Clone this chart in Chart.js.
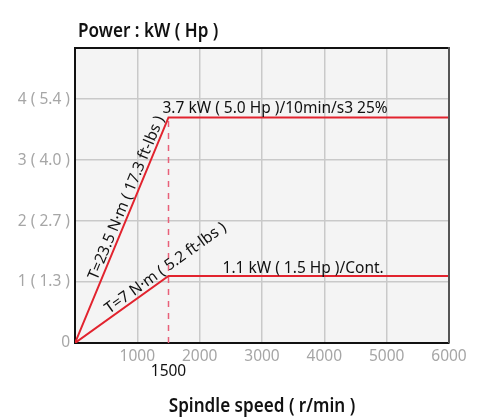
<!DOCTYPE html>
<html>
<head>
<meta charset="utf-8">
<script src="https://cdn.jsdelivr.net/npm/chart.js@4/dist/chart.umd.min.js"></script>
<style>
  html, body { margin: 0; padding: 0; background: #ffffff; }
  #wrap { width: 480px; height: 417px; position: relative; }
</style>
</head>
<body>
<div id="wrap"><canvas id="c" width="480" height="417"></canvas></div>
<script>
// ---- data ----
const speeds = [0, 1500, 6000];               // r/min
const peakPower = [0, 3.7, 3.7];              // kW, 10min/S3 25%
const contPower = [0, 1.1, 1.1];              // kW, continuous
const baseSpeed = [1500, 1500];
const baseSpeedPower = [0, 3.7];
const xTickValues = [0, 1000, 2000, 3000, 4000, 5000, 6000];
const yTickValues = [0, 1, 2, 3, 4];
const yTickLabels = ['0', '1 ( 1.3 )', '2 ( 2.7 )', '3 ( 4.0 )', '4 ( 5.4 )'];
const peakLabel = '3.7 kW ( 5.0 Hp )/10min/s3 25%';
const contLabel = '1.1 kW ( 1.5 Hp )/Cont.';
const peakTorqueLabel = 'T=23.5 N·m ( 17.3 ft-lbs )';
const contTorqueLabel = 'T=7 N·m ( 5.2 ft-lbs )';
const baseSpeedLabel = '1500';
const yTitle = 'Power : kW ( Hp )';
const xTitle = 'Spindle speed ( r/min )';

const FONT = '"Noto Sans", sans-serif';
const RED = '#e2232e';

const toPts = (xs, ys) => xs.map((x, i) => ({ x: x, y: ys[i] }));

const decor = {
  id: 'decor',
  beforeDraw(chart) {
    const { ctx, chartArea: a } = chart;
    ctx.save();
    ctx.fillStyle = '#f4f4f4';
    ctx.fillRect(a.left, a.top, a.right - a.left, a.bottom - a.top);
    ctx.restore();
  },
  afterDraw(chart) {
    const { ctx, chartArea: a, scales } = chart;
    const xs = scales.x, ys = scales.y;
    ctx.save();
    // frame top & right
    ctx.lineWidth = 2;
    ctx.strokeStyle = '#111';
    ctx.beginPath(); ctx.moveTo(a.left, a.top); ctx.lineTo(a.right, a.top); ctx.stroke();
    ctx.strokeStyle = '#555';
    ctx.beginPath(); ctx.moveTo(a.right, a.top - 1); ctx.lineTo(a.right, a.bottom); ctx.stroke();

    ctx.fillStyle = '#111';
    // horizontal labels
    ctx.font = '15.5px ' + FONT;
    ctx.textAlign = 'center';
    ctx.textBaseline = 'alphabetic';
    ctx.fillText(peakLabel, xs.getPixelForValue(3210), ys.getPixelForValue(peakPower[2]) - 4);
    ctx.fillText(contLabel, xs.getPixelForValue(3660), ys.getPixelForValue(contPower[2]) - 3);

    // rotated torque labels
    const rot = (text, endX, endY, anchorX, off) => {
      const x0 = xs.getPixelForValue(0), y0 = ys.getPixelForValue(0);
      const x1 = xs.getPixelForValue(endX), y1 = ys.getPixelForValue(endY);
      const ang = Math.atan2(y1 - y0, x1 - x0);
      const ay = endY * anchorX / endX;
      const px = xs.getPixelForValue(anchorX), py = ys.getPixelForValue(ay);
      ctx.save();
      ctx.translate(px, py);
      ctx.rotate(ang);
      ctx.textAlign = 'center';
      ctx.textBaseline = 'middle';
      ctx.fillText(text, 0, -off);
      ctx.restore();
    };
    rot(peakTorqueLabel, speeds[1], peakPower[1], 945, 8);
    rot(contTorqueLabel, speeds[1], contPower[1], 1530, 8);

    // base speed label
    ctx.textAlign = 'center';
    ctx.textBaseline = 'middle';
    ctx.font = '15.5px ' + FONT;
    ctx.fillText(baseSpeedLabel, xs.getPixelForValue(baseSpeed[0]), a.bottom + 29);

    // titles (slightly condensed)
    const cond = 0.9;
    ctx.font = '600 19px ' + FONT;
    ctx.textBaseline = 'alphabetic';
    ctx.save();
    ctx.translate(a.left + 3, 37);
    ctx.scale(cond, 1);
    ctx.textAlign = 'left';
    ctx.fillText(yTitle, 0, 0);
    ctx.restore();
    ctx.save();
    ctx.translate((a.left + a.right) / 2, 412);
    ctx.scale(cond, 1);
    ctx.textAlign = 'center';
    ctx.fillText(xTitle, 0, 0);
    ctx.restore();
    ctx.restore();
  }
};

new Chart(document.getElementById('c'), {
  type: 'scatter',
  data: {
    datasets: [
      { data: toPts(speeds, peakPower), showLine: true, borderColor: RED, borderWidth: 2, pointRadius: 0, order: 1 },
      { data: toPts(speeds, contPower), showLine: true, borderColor: RED, borderWidth: 2, pointRadius: 0, order: 1 },
      { data: toPts(baseSpeed, baseSpeedPower), showLine: true, borderColor: '#e86079', borderWidth: 1.5, borderDash: [6, 6], pointRadius: 0, order: 2 }
    ]
  },
  options: {
    responsive: false,
    animation: false,
    events: [],
    layout: { padding: { top: 48, right: 31, left: 0, bottom: 0 } },
    plugins: { legend: { display: false }, tooltip: { enabled: false }, title: { display: false } },
    scales: {
      x: {
        type: 'linear', min: 0, max: 6000,
        afterFit(s) { s.height = 74; },
        afterBuildTicks(s) { s.ticks = xTickValues.map(v => ({ value: v })); },
        grid: { color: '#c9c9c9', lineWidth: 1.5, drawTicks: false },
        border: { color: '#111', width: 2 },
        ticks: {
          padding: 4, color: '#a6a6a6', font: { family: FONT, size: 15.5 }, maxRotation: 0,
          callback: v => (v === 0 ? '' : String(v))
        }
      },
      y: {
        type: 'linear', min: 0, max: 4.84,
        afterFit(s) { s.width = 75; },
        afterBuildTicks(s) { s.ticks = yTickValues.map(v => ({ value: v })); },
        grid: { color: '#c9c9c9', lineWidth: 1.5, drawTicks: false },
        border: { color: '#111', width: 2 },
        ticks: {
          padding: 5, color: '#a6a6a6', font: { family: FONT, size: 15.5 },
          callback: (v) => yTickLabels[yTickValues.indexOf(v)]
        }
      }
    }
  },
  plugins: [decor]
});
</script>
</body>
</html>
